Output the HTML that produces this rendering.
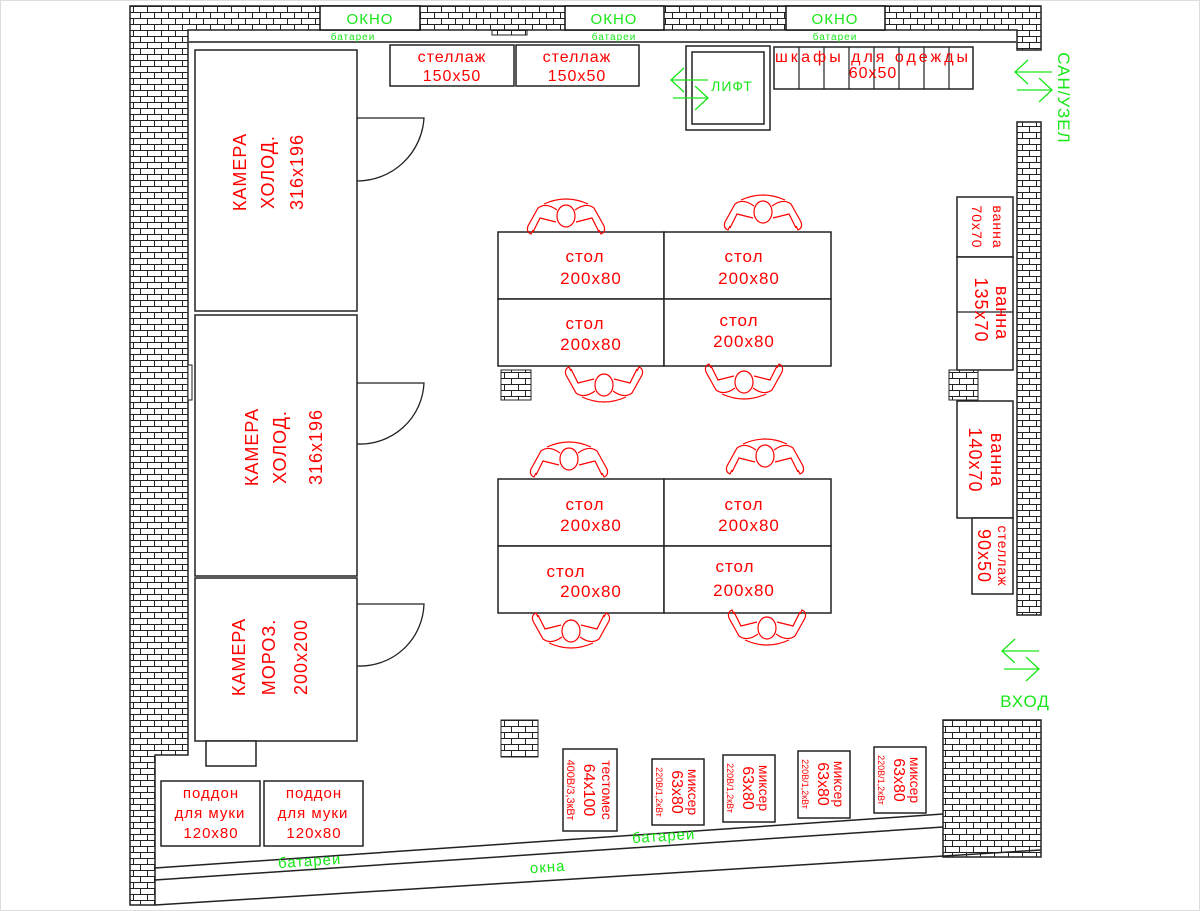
<!DOCTYPE html>
<html><head><meta charset="utf-8"><style>
html,body{margin:0;padding:0;background:#fff;}
svg{display:block;}
.r{fill:#f00;font-family:"Liberation Sans","DejaVu Sans",sans-serif;}
.g{fill:#19e619;font-family:"Liberation Sans","DejaVu Sans",sans-serif;}
.k{fill:#fff;stroke:#111;stroke-width:1.5;}
</style></head><body>
<svg width="1200" height="911" viewBox="0 0 1200 911" xmlns="http://www.w3.org/2000/svg">
<defs>
<pattern id="br" width="14" height="12" patternUnits="userSpaceOnUse">
<rect width="14" height="12" fill="#fff"/>
<path d="M0 0.5H14M0 6.5H14M0.5 0V6M7.5 6V12" stroke="#222" stroke-width="1" fill="none"/>
</pattern>
<g id="p" fill="none" stroke="#f00" stroke-width="1.2">
<ellipse cx="0" cy="0" rx="9" ry="11"/>
<path d="M-9 -6 Q-20 -14 -28 -8 L-38 10 Q-40 16 -35 18 L-33 14 M9 -6 Q20 -14 28 -8 L38 10 Q40 16 35 18 L33 14 M-10 6 L-26 2 L-33 16 M10 6 L26 2 L33 16 M-22 -12 Q0 -22 22 -12"/>
</g>
</defs>
<rect width="1200" height="911" fill="#fff"/>
<rect x="0.5" y="0.5" width="1199" height="910" fill="none" stroke="#ddd"/>
<!-- walls -->
<path d="M130 6H1041V50H1017V30H188V755H155V905H130Z" fill="url(#br)" stroke="#222" stroke-width="1.5"/>
<rect x="1017" y="122" width="24" height="493" fill="url(#br)" stroke="#222" stroke-width="1.5"/>
<rect x="943" y="720" width="98" height="137" fill="url(#br)" stroke="#222" stroke-width="1.5"/>
<rect x="501" y="370" width="30" height="30" fill="url(#br)" stroke="#222"/>
<rect x="949" y="370" width="29" height="30" fill="url(#br)" stroke="#222"/>
<rect x="501" y="720" width="37" height="37" fill="url(#br)" stroke="#222"/>
<rect x="492" y="30" width="35" height="5" fill="url(#br)" stroke="#222"/>
<rect x="188" y="365" width="4" height="35" fill="#fff" stroke="#222"/>
<!-- windows -->
<rect x="320" y="6" width="100" height="24" class="k"/>
<rect x="565" y="6" width="99" height="24" class="k"/>
<rect x="786" y="6" width="99" height="24" class="k"/>
<text x="370" y="24" class="g" font-size="15" text-anchor="middle" letter-spacing="1">ОКНО</text>
<text x="614" y="24" class="g" font-size="15" text-anchor="middle" letter-spacing="1">ОКНО</text>
<text x="835" y="24" class="g" font-size="15" text-anchor="middle" letter-spacing="1">ОКНО</text>
<line x1="188" y1="42" x2="1017" y2="42" stroke="#555" stroke-width="2"/>
<text x="353" y="40" class="g" font-size="10" text-anchor="middle" letter-spacing="1">батареи</text>
<text x="614" y="40" class="g" font-size="10" text-anchor="middle" letter-spacing="1">батареи</text>
<text x="835" y="40" class="g" font-size="10" text-anchor="middle" letter-spacing="1">батареи</text>
<!-- bottom slanted -->
<path d="M155 868L943 814M155 880L943 827M155 905L1041 850" stroke="#222" stroke-width="1.5" fill="none"/>
<text transform="translate(310 866) rotate(-3.9)" class="g" font-size="15" text-anchor="middle" letter-spacing="1">батареи</text>
<text transform="translate(664 841) rotate(-3.9)" class="g" font-size="15" text-anchor="middle" letter-spacing="1">батареи</text>
<text transform="translate(548 872) rotate(-3.9)" class="g" font-size="15" text-anchor="middle" letter-spacing="1">окна</text>
<!-- cameras -->
<g fill="#fff" stroke="#222" stroke-width="1.5">
<rect x="195" y="50" width="162" height="261"/>
<rect x="195" y="315" width="162" height="261"/>
<rect x="195" y="578" width="162" height="163"/>
<rect x="206" y="741" width="50" height="25"/>
</g>
<g fill="none" stroke="#222" stroke-width="1.3">
<path d="M357 118H424A67 67 0 0 1 357 181"/>
<path d="M357 383H424A64 64 0 0 1 357 444"/>
<path d="M357 604H424A64 64 0 0 1 357 666"/>
</g>
<g class="r" font-size="18" text-anchor="middle" letter-spacing="1">
<text transform="translate(246 172) rotate(-90)">КАМЕРА</text>
<text transform="translate(274 172) rotate(-90)">ХОЛОД.</text>
<text transform="translate(303 172) rotate(-90)">316х196</text>
<text transform="translate(258 447) rotate(-90)">КАМЕРА</text>
<text transform="translate(286 447) rotate(-90)">ХОЛОД.</text>
<text transform="translate(322 447) rotate(-90)">316х196</text>
<text transform="translate(245 657) rotate(-90)">КАМЕРА</text>
<text transform="translate(275 657) rotate(-90)">МОРОЗ.</text>
<text transform="translate(307 657) rotate(-90)">200х200</text>
</g>
<!-- top furniture -->
<g fill="#fff" stroke="#222" stroke-width="1.5">
<rect x="390" y="45" width="124" height="41"/>
<rect x="516" y="45" width="123" height="41"/>
<rect x="686" y="46" width="84" height="84"/>
<rect x="692" y="52" width="72" height="72"/>
<rect x="774" y="47" width="199" height="42"/>
</g>
<path d="M799 47V89M824 47V89M849 47V89M874 47V89M899 47V89M924 47V89M949 47V89" stroke="#222" stroke-width="1.2"/>
<g class="r" font-size="16" text-anchor="middle" letter-spacing="1">
<text x="452" y="62">стеллаж</text><text x="452" y="81">150х50</text>
<text x="577" y="62">стеллаж</text><text x="577" y="81">150х50</text>
<text x="873" y="62" font-size="16" letter-spacing="3">шкафы для одежды</text>
<text x="873" y="78">60х50</text>
</g>
<text x="732" y="91" class="g" font-size="14" text-anchor="middle" letter-spacing="1">ЛИФТ</text>
<g stroke="#19e619" stroke-width="1.3" fill="none">
<path d="M671 80H708M684 68L671 80L684 92M673 98H708M695 86L708 98L695 110"/>
<path d="M1015 72H1052M1028 60L1015 72L1028 84M1017 90H1052M1039 78L1052 90L1039 102"/>
<path d="M1002 651H1039M1015 639L1002 651L1015 663M1004 669H1039M1026 657L1039 669L1026 681"/>
</g>
<text transform="translate(1058 98) rotate(90)" class="g" font-size="17" text-anchor="middle" letter-spacing="1">САН/УЗЕЛ</text>
<text x="1025" y="707" class="g" font-size="17" text-anchor="middle" letter-spacing="1">ВХОД</text>
<!-- tables -->
<g fill="#fff" stroke="#222" stroke-width="1.5">
<rect x="498" y="232" width="166" height="67"/><rect x="664" y="232" width="167" height="67"/>
<rect x="498" y="299" width="166" height="67"/><rect x="664" y="299" width="167" height="67"/>
<rect x="498" y="479" width="166" height="67"/><rect x="664" y="479" width="167" height="67"/>
<rect x="498" y="546" width="166" height="67"/><rect x="664" y="546" width="167" height="67"/>
</g>
<g class="r" font-size="17" text-anchor="middle" letter-spacing="1">
<text x="585" y="262">стол</text><text x="591" y="284">200х80</text>
<text x="744" y="262">стол</text><text x="749" y="284">200х80</text>
<text x="585" y="329">стол</text><text x="591" y="350">200х80</text>
<text x="739" y="326">стол</text><text x="744" y="347">200х80</text>
<text x="585" y="510">стол</text><text x="591" y="531">200х80</text>
<text x="744" y="510">стол</text><text x="749" y="531">200х80</text>
<text x="566" y="577">стол</text><text x="591" y="597">200х80</text>
<text x="735" y="572">стол</text><text x="744" y="596">200х80</text>
</g>
<use href="#p" transform="translate(566 216)"/>
<use href="#p" transform="translate(763 212)"/>
<use href="#p" transform="translate(604 385) rotate(180)"/>
<use href="#p" transform="translate(744 382) rotate(180)"/>
<use href="#p" transform="translate(569 459)"/>
<use href="#p" transform="translate(765 456)"/>
<use href="#p" transform="translate(571 631) rotate(180)"/>
<use href="#p" transform="translate(767 628) rotate(180)"/>
<!-- right side -->
<g fill="#fff" stroke="#222" stroke-width="1.5">
<rect x="957" y="197" width="56" height="60"/>
<rect x="957" y="257" width="56" height="113"/>
<rect x="957" y="401" width="56" height="117"/>
<rect x="972" y="518" width="41" height="76"/>
</g>
<line x1="957" y1="312" x2="1013" y2="312" stroke="#222" stroke-width="1.2"/>
<g class="r" text-anchor="middle" letter-spacing="1">
<text transform="translate(993 227) rotate(90)" font-size="14">ванна</text>
<text transform="translate(972 227) rotate(90)" font-size="14">70х70</text>
<text transform="translate(996 313) rotate(90)" font-size="18">ванна</text>
<text transform="translate(975 310) rotate(90)" font-size="18">135х70</text>
<text transform="translate(991 460) rotate(90)" font-size="18">ванна</text>
<text transform="translate(969 460) rotate(90)" font-size="18">140х70</text>
<text transform="translate(998 556) rotate(90)" font-size="14">стеллаж</text>
<text transform="translate(978 556) rotate(90)" font-size="18">90х50</text>
</g>
<!-- bottom furniture -->
<g fill="#fff" stroke="#222" stroke-width="1.5">
<rect x="161" y="781" width="99" height="65"/>
<rect x="264" y="781" width="99" height="65"/>
<rect x="563" y="749" width="54" height="82"/>
<rect x="652" y="759" width="52" height="66"/>
<rect x="723" y="755" width="52" height="67"/>
<rect x="798" y="751" width="52" height="67"/>
<rect x="874" y="747" width="52" height="66"/>
</g>
<g class="r" font-size="15" text-anchor="middle" letter-spacing="1">
<text x="211" y="798">поддон</text><text x="210" y="818">для муки</text><text x="211" y="838">120х80</text>
<text x="314" y="798">поддон</text><text x="313" y="818">для муки</text><text x="314" y="838">120х80</text>
</g>
<g class="r" text-anchor="middle">
<text transform="translate(602 790) rotate(90)" font-size="14">тестомес</text>
<text transform="translate(584 790) rotate(90)" font-size="16">64х100</text>
<text transform="translate(567 790) rotate(90)" font-size="11">400В/3,3кВт</text>
<text transform="translate(688 792) rotate(90)" font-size="14">миксер</text>
<text transform="translate(672 792) rotate(90)" font-size="16">63х80</text>
<text transform="translate(656 792) rotate(90)" font-size="9">220В/1,2кВт</text>
<text transform="translate(759 788) rotate(90)" font-size="14">миксер</text>
<text transform="translate(743 788) rotate(90)" font-size="16">63х80</text>
<text transform="translate(727 788) rotate(90)" font-size="9">220В/1,2кВт</text>
<text transform="translate(834 784) rotate(90)" font-size="14">миксер</text>
<text transform="translate(818 784) rotate(90)" font-size="16">63х80</text>
<text transform="translate(802 784) rotate(90)" font-size="9">220В/1,2кВт</text>
<text transform="translate(910 780) rotate(90)" font-size="14">миксер</text>
<text transform="translate(894 780) rotate(90)" font-size="16">63х80</text>
<text transform="translate(878 780) rotate(90)" font-size="9">220В/1,2кВт</text>
</g>
</svg>
</body></html>
